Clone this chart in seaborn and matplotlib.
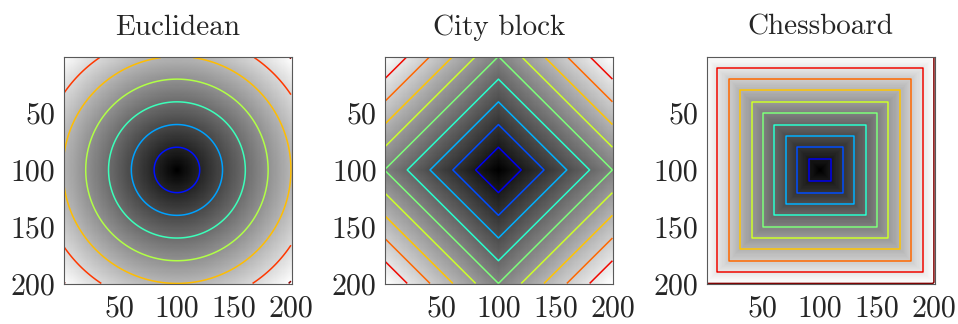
import numpy as np
import matplotlib
matplotlib.use("Agg")
import matplotlib.pyplot as plt
import seaborn as sns

# ---- data definition ----
grid_size = 200
center = 100
titles = ["Euclidean", "City block", "Chessboard"]
levels_euclid = [20, 40, 60, 80, 100, 120, 140]
levels_city = [20, 40, 60, 80, 100, 120, 140, 160, 180]
levels_chess = [10, 20, 30, 40, 50, 60, 70, 80, 90, 99.99]
tick_values = [50, 100, 150, 200]
tick_labels = ["50", "100", "150", "200"]

idx = np.arange(1, grid_size + 1)
J, I = np.meshgrid(idx, idx)
dx = np.abs(J - center)
dy = np.abs(I - center)
d_euclid = np.sqrt(dx ** 2 + dy ** 2)
d_city = dx + dy
d_chess = np.maximum(dx, dy)

maps = [d_euclid, d_city, d_chess]
levels = [levels_euclid, levels_city, levels_chess]

sns.set_theme(style="white")
plt.rcParams["font.family"] = ["cmr10", "DejaVu Serif"]
plt.rcParams["mathtext.fontset"] = "cm"
plt.rcParams["axes.unicode_minus"] = False
plt.rcParams["axes.formatter.use_mathtext"] = True

fig = plt.figure(figsize=(9.58, 3.24), dpi=100)
W, H = 958, 324
lefts = [63.5, 385, 706.5]
for k in range(3):
    ax = fig.add_axes([lefts[k] / W, 40 / H, 228 / W, 227 / H])
    D = maps[k]
    sns.heatmap(D, cmap="gray", cbar=False, ax=ax, vmin=0, vmax=D.max(),
                xticklabels=False, yticklabels=False)
    xc = np.arange(grid_size) + 0.5
    ax.contour(xc, xc, D, levels=levels[k], cmap="jet", vmin=0,
               vmax=D.max(), linewidths=1.1)
    ax.set_xlim(0, grid_size)
    ax.set_ylim(grid_size, 0)
    pos = [v - 0.5 for v in tick_values]
    ax.set_xticks(pos)
    ax.set_xticklabels(tick_labels, fontsize=21.5)
    ax.set_yticks(pos)
    ax.set_yticklabels(tick_labels, fontsize=21.5, rotation=0)
    ax.tick_params(direction="in", length=3, width=0.5, color="0.3",
                   top=True, right=True, bottom=True, left=True)
    ax.tick_params(axis="y", pad=6)
    ax.tick_params(axis="x", pad=8)
    for sp in ax.spines.values():
        sp.set_visible(True)
        sp.set_color("0.35")
        sp.set_linewidth(0.8)
    ax.set_title(titles[k], fontsize=21, pad=16)

fig.savefig("out.png", dpi=100)
